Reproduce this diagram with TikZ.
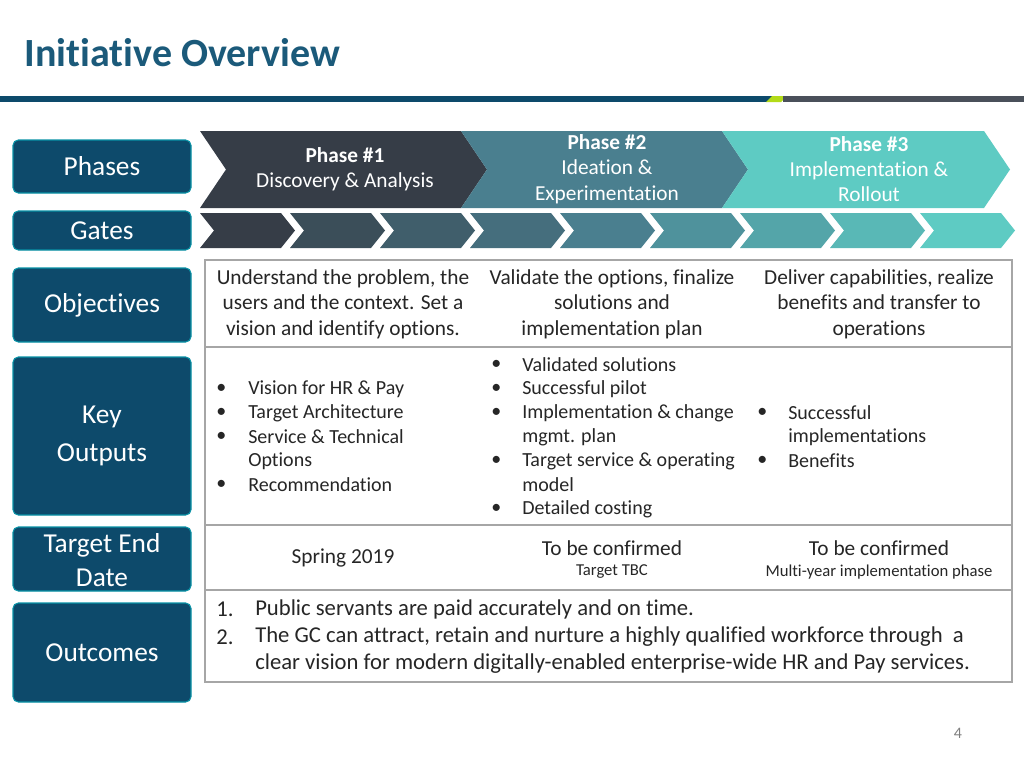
\documentclass[tikz,border=0pt]{standalone}
\usepackage{fontspec}
\setmainfont{Carlito}[Ligatures={NoCommon}]
\begin{document}
\begin{tikzpicture}[x=0.75pt,y=-0.75pt,
  lfill/.style={draw=navy!60!cyan,line width=0.8pt,fill=navy,rounded corners=4pt},
  ltext/.style={text=white,font=\fontsize{20.5}{23}\selectfont,align=center,inner sep=0pt},
  body/.style={font=\fontsize{16}{19}\selectfont,align=center,text=black!85},
  bl/.style={font=\fontsize{15}{18}\selectfont,anchor=west,text=black!85,inner sep=0pt},
  ol/.style={font=\fontsize{17}{20}\selectfont,anchor=west,text=black!85,inner sep=0pt},
  sm/.style={font=\fontsize{12.5}{14}\selectfont,text=black!85}]
\definecolor{navy}{HTML}{0D4A6B}
\definecolor{ca}{HTML}{363D47}
\definecolor{cb}{HTML}{4A7F8F}
\definecolor{cc}{HTML}{5ECBC3}
\definecolor{ttl}{HTML}{1B5A7A}
\useasboundingbox (0,0) rectangle (1024,768);
\fill[white] (0,0) rectangle (1024,768);
\node[anchor=west,text=ttl,font=\bfseries\fontsize{30}{32}\selectfont] (title) at (20,53) {Initiative Overview};
\fill[navy] (0,96) rectangle (772,102);
\fill[yellow!70!green] (772,96) -- (787,96) -- (781,102) -- (766,102) -- cycle;
\fill[ca!90] (783,96) rectangle (1024,102);
% left boxes
\draw[lfill] (13,140) rectangle (191,193); \node[ltext] (ph) at (102,166.5) {Phases};
\draw[lfill] (13,211) rectangle (191,250); \node[ltext] (ga) at (102,230.5) {Gates};
\draw[lfill] (13,268) rectangle (191,342); \node[ltext] (ob) at (102,305) {Objectives};
\draw[lfill] (13,357) rectangle (191,515); \node[ltext] (ko) at (102,436) {Key\\[6pt]Outputs};
\draw[lfill] (13,527) rectangle (191,591); \node[ltext] (te) at (102,560) {Target End\\[3pt]Date};
\draw[lfill] (13,603) rectangle (191,702); \node[ltext] (oc) at (102,653) {Outcomes};
% phase chevrons
\def\chev#1#2#3#4#5#6{\fill[#6] (#1,#3) -- ({#2-#5},#3) -- (#2,{(#3+#4)/2}) -- ({#2-#5},#4) -- (#1,#4) -- ({#1+#5},{(#3+#4)/2}) -- cycle;}
\chev{200}{487}{131}{208}{26}{ca}
\chev{461}{748}{131}{208}{26}{cb}
\chev{722}{1010}{131}{208}{26}{cc}
\node[body,text=white] (p1) at (345,169) {\textbf{Phase \#1}\\Discovery \& Analysis};
\node[body,text=white] (p2) at (607,169) {\textbf{Phase \#2}\\Ideation \&\\Experimentation};
\node[body,text=white] (p3) at (869,169) {\textbf{Phase \#3}\\Implementation \&\\Rollout};
% gates
\foreach \i in {0,...,8}{
  \pgfmathsetmacro\xa{200+90*\i}
  \pgfmathsetmacro\xb{200+90*\i+95}
  \colorlet{gc}{cb}
  \ifnum\i<4 \pgfmathsetmacro\mm{100-25*\i}\colorlet{gc}{ca!\mm!cb}\else \pgfmathsetmacro\mm{100-25*(\i-4)}\colorlet{gc}{cb!\mm!cc}\fi
  \chev{\xa}{\xb}{213}{248}{14}{gc}
}
% table
\draw[black!35,line width=0.8pt] (205,260) rectangle (1012,682);
\foreach \y in {347,525,590} \draw[black!35,line width=0.8pt] (205,\y) -- (1012,\y);
\node[body] (o1) at (343,304) {Understand the problem, the\\users and the context. Set a\\vision and identify options.};
\node[body] (o2) at (612,304) {Validate the options, finalize\\solutions and\\implementation plan};
\node[body] (o3) at (879,304) {Deliver capabilities, realize\\benefits and transfer to\\operations};
\foreach \t [count=\k] in {Vision for HR \& Pay,Target Architecture,Service \& Technical,Options,Recommendation}{
  \pgfmathsetmacro\yy{389+24*(\k-1)}
  \node[bl] at (248,\yy) {\t};}
\foreach \yy in {389,413,437,485} \node[bl] at (216,\yy) {•};
\foreach \t [count=\k] in {Validated solutions,Successful pilot,Implementation \& change,mgmt. plan,Target service \& operating,model,Detailed costing}{
  \pgfmathsetmacro\yy{365+24*(\k-1)}
  \node[bl] at (522,\yy) {\t};}
\foreach \yy in {365,389,413,461,509} \node[bl] at (491,\yy) {•};
\foreach \t [count=\k] in {Successful,implementations,Benefits}{
  \pgfmathsetmacro\yy{413+24*(\k-1)}
  \node[bl] at (788,\yy) {\t};}
\foreach \yy in {413,461} \node[bl] at (757,\yy) {•};
\node[body] (t1) at (343,558) {Spring 2019};
\node[body] (t2) at (612,548) {To be confirmed};
\node[sm] (t2b) at (612,572) {Target TBC};
\node[body] (t3) at (879,548) {To be confirmed};
\node[sm] (t3b) at (879,572) {Multi-year implementation phase};
\node[ol] at (216,609) {1.};
\node[ol] at (216,637) {2.};
\node[ol] at (255,609) {Public servants are paid accurately and on time.};
\node[ol] at (255,637) {The GC can attract, retain and nurture a highly qualified workforce through\ \ a};
\node[ol] at (255,664) {clear vision for modern digitally-enabled enterprise-wide HR and Pay services.};
\node[text=black!50,font=\fontsize{12}{13}\selectfont] (pg) at (958,733) {4};
\end{tikzpicture}
\end{document}
